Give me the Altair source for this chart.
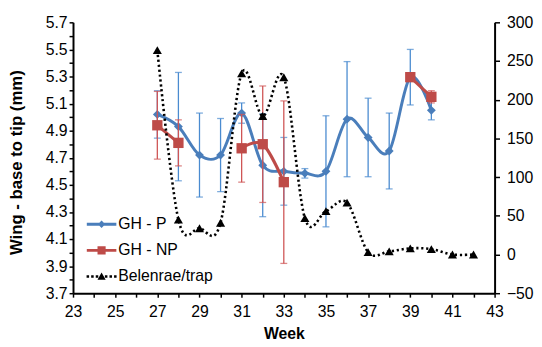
import altair as alt
import pandas as pd

# ---------------- data ----------------
weeks_p = [27, 28, 29, 30, 31, 32, 33, 34, 35, 36, 37, 38, 39, 40]
gh_p = [5.02, 4.93, 4.72, 4.72, 5.03, 4.645, 4.60, 4.585, 4.60, 4.985, 4.85, 4.75, 5.295, 5.05]
gh_p_err = [0.175, 0.40, 0.31, 0.27, 0.075, 0.38, 0.25, 0.035, 0.41, 0.425, 0.29, 0.28, 0.205, 0.07]

weeks_np = [27, 28, 31, 32, 33, 39, 40]
gh_np = [4.94, 4.81, 4.77, 4.80, 4.52, 5.295, 5.15]
gh_np_err = [0.25, 0.17, 0.25, 0.43, 0.60, 0.03, 0.045]
np_segment = [1, 1, 2, 2, 2, 3, 3]

weeks_trap = [27, 28, 29, 30, 31, 32, 33, 34, 35, 36, 37, 38, 39, 40, 41, 42]
trap = [264, 45, 34, 41, 234, 179, 229, 47, 56, 67, 3, 4, 8, 7, 0, 0]

series = ["GH - P", "GH - NP", "Belenrae/trap"]
line_colors = ["#4A7EBB", "#BE4B48", "#000000"]
err_colors = ["#4A8BD0", "#CF5555"]

x_ticks = list(range(23, 44))
y_left_ticks = [round(3.7 + 0.1 * i, 1) for i in range(21)]
y_right_ticks = [-50, 0, 50, 100, 150, 200, 250, 300]

# legend symbols (custom paths, unit = sqrt(size)/2)
legend_shapes = [
    "M-2,-0.2L2,-0.2L2,0.2L-2,0.2Z M0,-0.5L0.5,0L0,0.5L-0.5,0Z",
    "M-2,-0.2L2,-0.2L2,0.2L-2,0.2Z M-0.55,-0.55L0.55,-0.55L0.55,0.55L-0.55,0.55Z",
    "M0,-0.55L0.55,0.45L-0.55,0.45Z "
    + " ".join(
        f"M{c - 0.17:.2f},-0.17L{c + 0.17:.2f},-0.17L{c + 0.17:.2f},0.17L{c - 0.17:.2f},0.17Z"
        for c in [-1.86, -1.24, -0.62, 0.62, 1.24, 1.86]
    ),
]

df_p = pd.DataFrame({
    "week": weeks_p, "v": gh_p,
    "lo": [v - e for v, e in zip(gh_p, gh_p_err)],
    "hi": [v + e for v, e in zip(gh_p, gh_p_err)],
})
df_np = pd.DataFrame({
    "week": weeks_np, "v": gh_np, "seg": np_segment,
    "lo": [v - e for v, e in zip(gh_np, gh_np_err)],
    "hi": [v + e for v, e in zip(gh_np, gh_np_err)],
})
df_trap = pd.DataFrame({"week": weeks_trap, "n": trap})
df_leg = pd.DataFrame({"series": series})

FONT = "Liberation Sans"

x_scale = alt.Scale(domain=[23, 43], nice=False, zero=False)
yl_scale = alt.Scale(domain=[3.7, 5.7], nice=False, zero=False)
yr_scale = alt.Scale(domain=[-50, 300], nice=False, zero=False)

common_axis = dict(
    domainColor="black", domainWidth=2, tickColor="black", tickWidth=1.5,
    labelFont=FONT, labelFontSize=16, labelColor="black", grid=False,
    titleFont=FONT, titleColor="black", titleFontWeight="bold",
)

x_axis = alt.Axis(
    values=x_ticks, tickSize=4, labelPadding=7, title="Week", titleFontSize=16,
    labelExpr="datum.value % 2 == 1 ? datum.label : ''",
    titleBaseline="top", titleY=33, labelFlush=False, labelOverlap=False,
    **common_axis,
)
yl_axis = alt.Axis(
    values=y_left_ticks, tickSize=4, labelPadding=2, title="Wing - base to tip (mm)",
    titleFontSize=17, titleX=-48, titleY=142, titleBaseline="bottom",
    labelExpr="round(datum.value*10) % 2 == 1 ? format(datum.value, '.1f') : ''",
    labelOverlap=False, labelFlush=False,
    **common_axis,
)
yr_axis = alt.Axis(
    values=y_right_ticks, orient="right", tickSize=5, labelPadding=7, title=None,
    labelOverlap=False, labelFlush=False, labelAlign="left",
    **common_axis,
)

X = alt.X("week:Q", scale=x_scale, axis=x_axis)

def YL(field):
    return alt.Y(field, scale=yl_scale, axis=yl_axis)

def YR(field):
    return alt.Y(field, scale=yr_scale, axis=yr_axis)

def err_layers(df, color):
    rule = alt.Chart(df).mark_rule(color=color, strokeWidth=1.3).encode(
        x=X, y=YL("lo:Q"), y2="hi:Q")
    cap_lo = alt.Chart(df).mark_point(shape="stroke", size=49, color=color, strokeWidth=1.3).encode(
        x=X, y=YL("lo:Q"))
    cap_hi = alt.Chart(df).mark_point(shape="stroke", size=49, color=color, strokeWidth=1.3).encode(
        x=X, y=YL("hi:Q"))
    return [rule, cap_lo, cap_hi]

p_line = alt.Chart(df_p).mark_line(color=line_colors[0], strokeWidth=3, interpolate="cardinal").encode(
    x=X, y=YL("v:Q"))
p_pts = alt.Chart(df_p).mark_point(shape="diamond", size=81, filled=True, opacity=1,
                                  color=line_colors[0]).encode(x=X, y=YL("v:Q"))

np_line = alt.Chart(df_np).mark_line(color=line_colors[1], strokeWidth=3, interpolate="cardinal").encode(
    x=X, y=YL("v:Q"), detail="seg:N")
np_pts = alt.Chart(df_np).mark_point(shape="square", size=110, filled=True, opacity=1,
                                    color=line_colors[1]).encode(x=X, y=YL("v:Q"))

# legend-only layer: no marks drawn (filtered out), legend built from the scale domain
legend_layer = alt.Chart(df_leg).mark_point(filled=True, opacity=1, strokeWidth=0).encode(
    color=alt.Color("series:N", scale=alt.Scale(domain=series, range=line_colors),
                    legend=alt.Legend(
                        title=None, orient="none", legendX=21, legendY=197,
                        symbolSize=225, symbolOpacity=1, symbolStrokeWidth=0,
                        labelFont=FONT, labelFontSize=16, labelColor="black",
                        labelOffset=9, rowPadding=10.5, padding=0,
                    )),
    shape=alt.Shape("series:N", scale=alt.Scale(domain=series, range=legend_shapes)),
).transform_filter("false")

left = alt.layer(
    *err_layers(df_p, err_colors[0]), p_line, p_pts,
    *err_layers(df_np, err_colors[1]), np_line, np_pts,
    legend_layer,
)

trap_line = alt.Chart(df_trap).mark_line(color="black", strokeWidth=2.6, strokeDash=[2.2, 2.8],
                                         interpolate="cardinal").encode(x=X, y=YR("n:Q"))
trap_pts = alt.Chart(df_trap).mark_point(shape="triangle-up", size=85, filled=True, opacity=1,
                                        color="black").encode(x=X, y=YR("n:Q"))

right = alt.layer(trap_line, trap_pts)

chart = alt.layer(left, right).resolve_scale(y="independent").properties(
    width=428, height=275,
    autosize=alt.AutoSizeParams(type="none"),
    padding={"left": 66, "top": 12, "right": 40, "bottom": 48},
    background="white",
).configure(font=FONT, view=alt.ViewConfig(stroke=None))

chart.save("out.html", embed_options={"renderer": "svg", "actions": False})
